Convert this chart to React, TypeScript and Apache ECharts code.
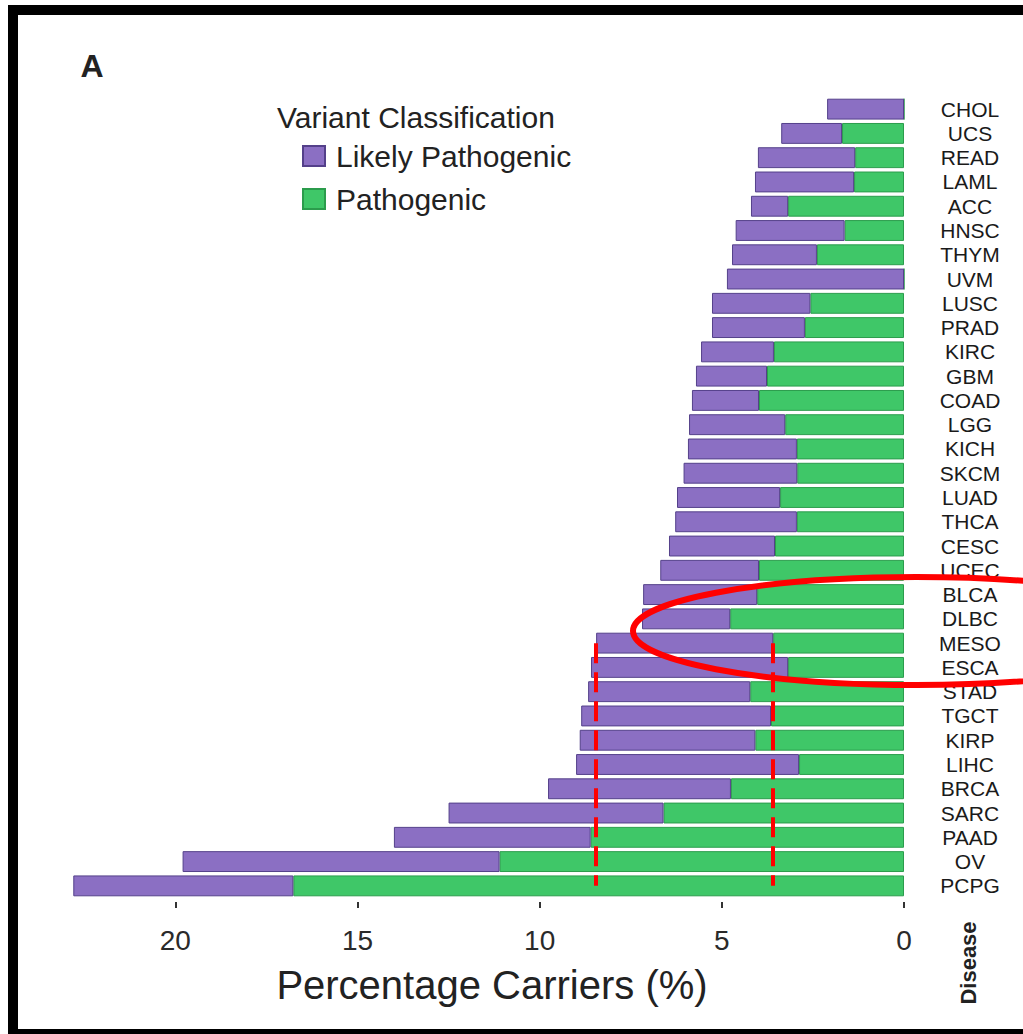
import React, { useEffect, useRef } from "react";
import * as echarts from "echarts";

// Cancer types, top to bottom
const categories = [
  "CHOL", "UCS", "READ", "LAML", "ACC", "HNSC", "THYM", "UVM", "LUSC", "PRAD",
  "KIRC", "GBM", "COAD", "LGG", "KICH", "SKCM", "LUAD", "THCA", "CESC", "UCEC",
  "BLCA", "DLBC", "MESO", "ESCA", "STAD", "TGCT", "KIRP", "LIHC", "BRCA", "SARC",
  "PAAD", "OV", "PCPG",
];

// Percentage of carriers with pathogenic variants
const pathogenic = [
  0, 1.7, 1.34, 1.37, 3.18, 1.63, 2.39, 0, 2.57, 2.72,
  3.57, 3.76, 3.98, 3.26, 2.94, 2.93, 3.4, 2.94, 3.54, 3.98,
  4.03, 4.77, 3.59, 3.18, 4.22, 3.65, 4.08, 2.88, 4.75, 6.6,
  8.6, 11.1, 16.76,
];

// Percentage of carriers with likely pathogenic variants
const likelyPathogenic = [
  2.11, 1.67, 2.67, 2.72, 1.02, 2.99, 2.33, 4.86, 2.7, 2.55,
  2.0, 1.95, 1.84, 2.64, 2.99, 3.12, 2.83, 3.34, 2.91, 2.71,
  3.13, 2.42, 4.86, 5.41, 4.45, 5.21, 4.82, 6.12, 5.02, 5.9,
  5.4, 8.7, 6.04,
];

const tickValues = [0, 5, 10, 15, 20];

// Reference lines at the MESO total and MESO pathogenic share
const guideValues = [8.45, 3.59];
const guideFrom = "MESO";
const guideTo = "PCPG";

const FONT = "'Liberation Sans', Arial, Helvetica, sans-serif";
const PURPLE = "#8b6fc3";
const GREEN = "#3fc768";

export default function App() {
  const ref = useRef<HTMLDivElement>(null);

  useEffect(() => {
    if (!ref.current) return;
    const chart = echarts.init(ref.current, null, { renderer: "svg" });
    chart.setOption({
      animation: false,
      backgroundColor: "#ffffff",
      textStyle: { fontFamily: FONT },
      grid: { left: 66, right: 119, top: 97, bottom: 136, containLabel: false },
      legend: {
        data: ["Likely Pathogenic", "Pathogenic"],
        orient: "vertical",
        left: 302,
        top: 141,
        padding: 0,
        icon: "rect",
        itemWidth: 22,
        itemHeight: 20,
        itemGap: 13,
        textStyle: { fontSize: 30, color: "#222", fontFamily: FONT, padding: [0, 0, 0, 6] },
      },
      xAxis: {
        type: "value",
        inverse: true,
        min: 0,
        max: 23,
        offset: 4,
        axisLine: { show: false },
        axisTick: {
          show: true,
          length: 6,
          customValues: tickValues,
          lineStyle: { color: "#333", width: 2 },
        },
        splitLine: { show: false },
        axisLabel: {
          customValues: tickValues,
          fontSize: 28,
          color: "#2a2a2a",
          margin: 24,
          fontFamily: FONT,
        },
        name: "Percentage Carriers (%)",
        nameLocation: "middle",
        nameGap: 63,
        nameTextStyle: {
          fontSize: 40,
          color: "#222",
          fontFamily: FONT,
          padding: [0, 0, 0, 14],
        },
      },
      yAxis: {
        type: "category",
        data: categories,
        inverse: true,
        position: "right",
        axisLine: { show: false },
        axisTick: { show: false },
        axisLabel: {
          interval: 0,
          hideOverlap: false,
          fontSize: 21,
          lineHeight: 22,
          color: "#1a1a1a",
          align: "center",
          margin: 66,
          fontFamily: FONT,
        },
      },
      series: [
        {
          name: "Pathogenic",
          type: "bar",
          stack: "total",
          data: pathogenic,
          barCategoryGap: "14%",
          itemStyle: { color: GREEN, borderColor: "#2b9c4c", borderWidth: 1 },
        },
        {
          name: "Likely Pathogenic",
          type: "bar",
          stack: "total",
          data: likelyPathogenic,
          barCategoryGap: "14%",
          itemStyle: { color: PURPLE, borderColor: "#54408a", borderWidth: 1 },
          markLine: {
            silent: true,
            symbol: "none",
            label: { show: false },
            lineStyle: { color: "#ff0000", width: 4, type: [20, 9] },
            data: guideValues.map((v) => [
              { coord: [v, guideFrom] },
              { coord: [v, guideTo] },
            ]),
            z: 10,
          },
        },
      ],
      graphic: [
        {
          type: "rect",
          shape: { x: 13, y: 10, width: 1100, height: 1024 },
          style: { fill: "none", stroke: "#000", lineWidth: 10 },
          silent: true,
          z: 50,
        },
        {
          type: "text",
          x: 92,
          y: 66,
          style: {
            text: "A",
            fontSize: 32,
            fontWeight: "bold",
            fill: "#222",
            fontFamily: FONT,
            align: "center",
            verticalAlign: "middle",
          },
        },
        {
          type: "text",
          x: 277,
          y: 117,
          style: {
            text: "Variant Classification",
            fontSize: 30,
            fill: "#222",
            fontFamily: FONT,
            align: "left",
            verticalAlign: "middle",
          },
        },
        {
          type: "text",
          x: 968,
          y: 963,
          rotation: Math.PI / 2,
          style: {
            text: "Disease",
            fontSize: 22,
            fontWeight: "bold",
            fill: "#222",
            fontFamily: FONT,
            align: "center",
            verticalAlign: "middle",
          },
        },
        {
          type: "ellipse",
          shape: { cx: 916, cy: 631, rx: 283, ry: 54 },
          style: { fill: "none", stroke: "#ff0000", lineWidth: 6 },
          silent: true,
          z: 60,
        },
      ],
    });
    return () => chart.dispose();
  }, []);

  return (
    <div
      ref={ref}
      style={{
        position: "fixed",
        left: 0,
        top: 0,
        width: 1023,
        height: 1034,
        overflow: "hidden",
        background: "#fff",
      }}
    />
  );
}
